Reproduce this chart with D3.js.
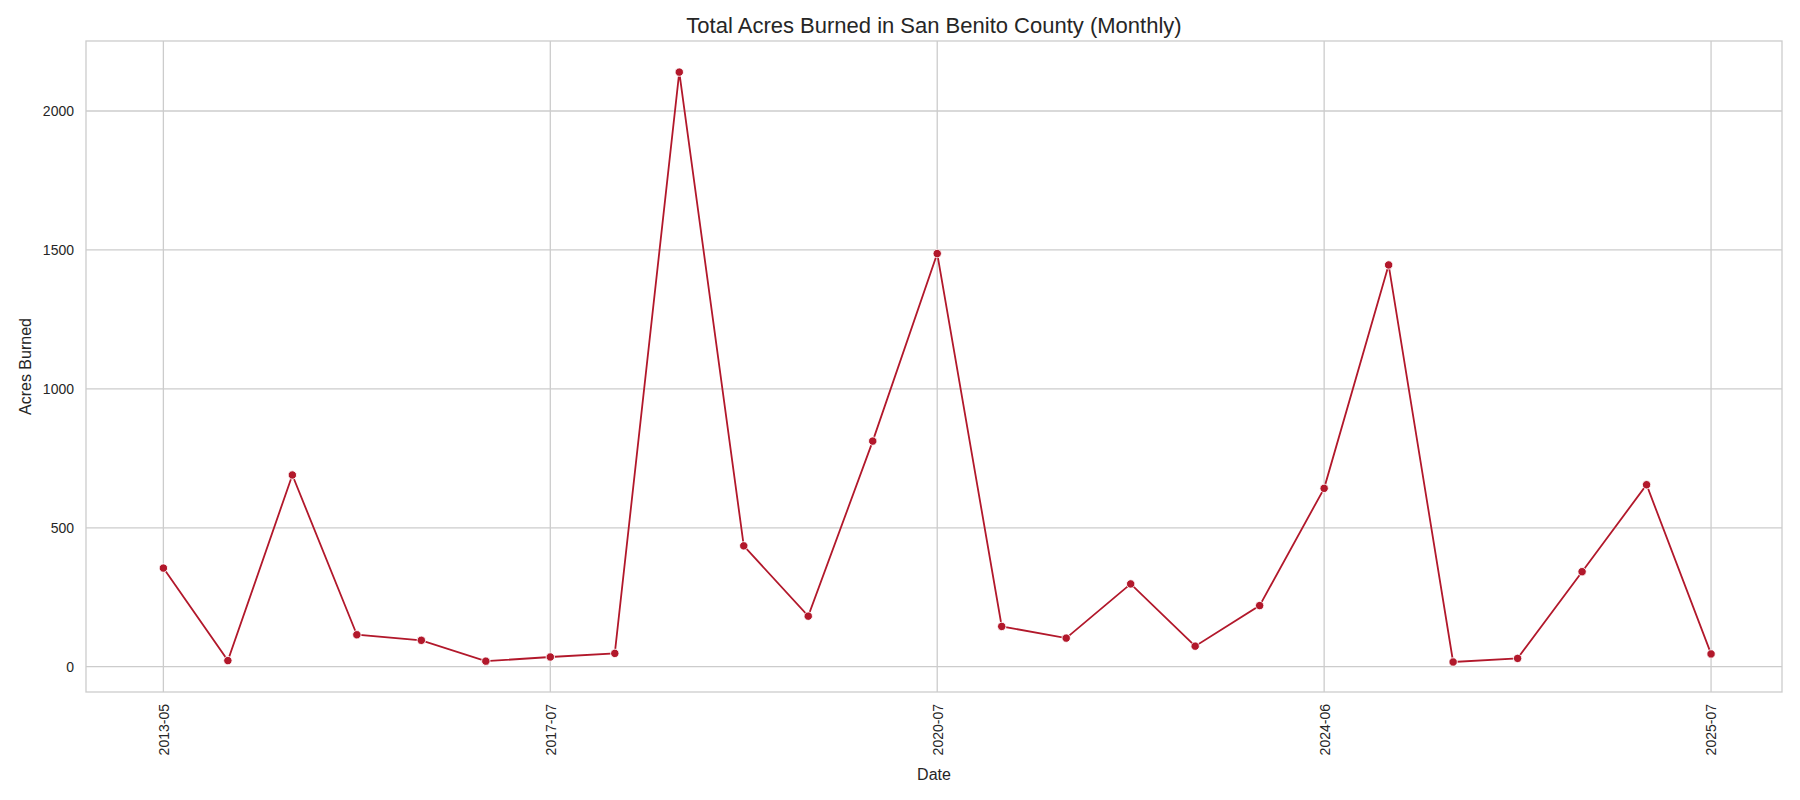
<!DOCTYPE html>
<html><head><meta charset="utf-8">
<script src="https://cdn.jsdelivr.net/npm/d3@7"></script>
<style>body{margin:0;background:#fff;font-family:"Liberation Sans",Arial,sans-serif}</style>
</head><body><svg id="c" width="1800" height="800"></svg>
<script>
// monthly totals, one point per month with fires (evenly spaced)
var acres = [355, 22, 690, 115, 95, 20, 35, 48, 2140, 435, 182, 812, 1487,
             145, 103, 298, 74, 220, 642, 1446, 17, 30, 342, 655, 46];
var tickIndex = [0, 6, 12, 18, 24];
var tickLabels = ["2013-05", "2017-07", "2020-07", "2024-06", "2025-07"];

var svg = d3.select("#c");
var m = {l: 86, r: 18, t: 41, b: 108};
var w = 1800 - m.l - m.r, h = 800 - m.t - m.b;
var g = svg.append("g").attr("transform", "translate(" + m.l + "," + m.t + ")");

var x = d3.scaleLinear().domain([-1.2, 25.1]).range([0, w]);
var y = d3.scaleLinear().domain([-91, 2252]).range([h, 0]);

// grid
g.selectAll(".gy").data([0, 500, 1000, 1500, 2000]).enter().append("line")
  .attr("x1", 0).attr("x2", w).attr("y1", y).attr("y2", y)
  .attr("stroke", "#cccccc").attr("stroke-width", 1.3);
g.selectAll(".gx").data(tickIndex).enter().append("line")
  .attr("y1", 0).attr("y2", h).attr("x1", x).attr("x2", x)
  .attr("stroke", "#cccccc").attr("stroke-width", 1.3);

g.append("rect").attr("width", w).attr("height", h)
  .attr("fill", "none").attr("stroke", "#cccccc").attr("stroke-width", 1.3);

var yAxis = g.append("g").call(d3.axisLeft(y).tickValues([0, 500, 1000, 1500, 2000]).tickFormat(d3.format("d")).tickSize(0).tickPadding(12));
var xAxis = g.append("g").attr("transform", "translate(0," + h + ")")
  .call(d3.axisBottom(x).tickValues(tickIndex).tickFormat(function(d, i) { return tickLabels[i]; }).tickSize(0));
[yAxis, xAxis].forEach(function(a) {
  a.select(".domain").remove();
  a.selectAll("text").attr("font-size", 14).attr("fill", "#262626").attr("font-family", "Liberation Sans, Arial, sans-serif");
});
xAxis.selectAll("text").attr("transform", "rotate(-90)").attr("text-anchor", "end")
  .attr("dx", "-12").attr("dy", "0.35em").attr("y", 0);

var line = d3.line().x(function(d, i) { return x(i); }).y(function(d) { return y(d); });
g.append("path").datum(acres).attr("d", line).attr("fill", "none")
  .attr("stroke", "#b2182b").attr("stroke-width", 1.8);
g.selectAll(".pt").data(acres).enter().append("circle")
  .attr("cx", function(d, i) { return x(i); }).attr("cy", y).attr("r", 4.2)
  .attr("fill", "#b2182b").attr("stroke", "#fff").attr("stroke-width", 0.9);

svg.append("text").attr("x", m.l + w / 2).attr("y", 33).attr("text-anchor", "middle")
  .attr("font-size", 22).attr("fill", "#262626").text("Total Acres Burned in San Benito County (Monthly)");
svg.append("text").attr("x", m.l + w / 2).attr("y", 780).attr("text-anchor", "middle")
  .attr("font-size", 16).attr("fill", "#262626").text("Date");
svg.append("text").attr("transform", "translate(31," + (m.t + h / 2) + ") rotate(-90)")
  .attr("text-anchor", "middle").attr("font-size", 16).attr("fill", "#262626").text("Acres Burned");
</script></body></html>
